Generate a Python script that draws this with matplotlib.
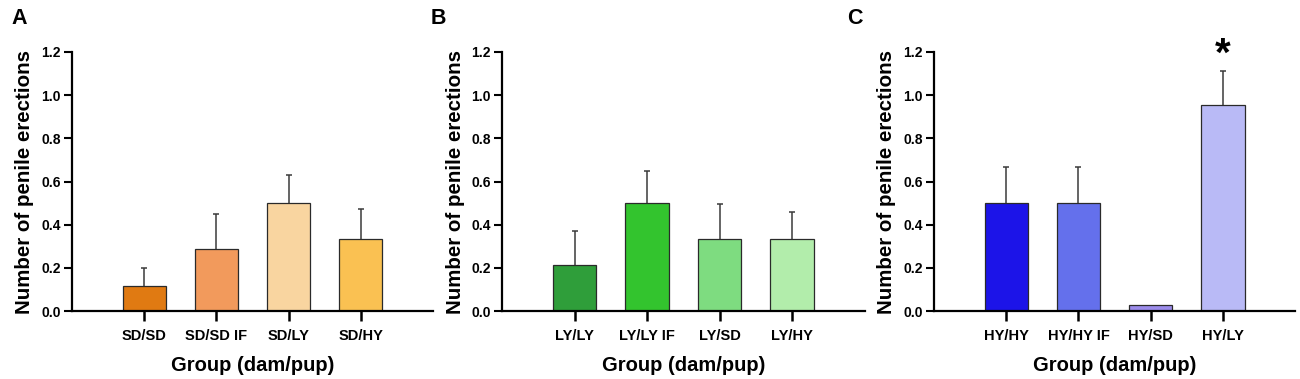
import numpy as np
import matplotlib
matplotlib.use('Agg')
import matplotlib.pyplot as plt

plt.rcParams['font.family'] = ['Liberation Sans', 'DejaVu Sans']
plt.rcParams['font.weight'] = 'bold'

# panel A
groups_a = ['SD/SD', 'SD/SD IF', 'SD/LY', 'SD/HY']
mean_a = [0.117, 0.286, 0.50, 0.333]
sem_a = [0.081, 0.164, 0.13, 0.141]
colors_a = ['#E07A12', '#F29A5C', '#F9D5A0', '#FAC152']

# panel B
groups_b = ['LY/LY', 'LY/LY IF', 'LY/SD', 'LY/HY']
mean_b = [0.214, 0.50, 0.333, 0.333]
sem_b = [0.157, 0.149, 0.161, 0.127]
colors_b = ['#2F9E3A', '#33C42E', '#7EDC80', '#B2EDAB']

# panel C
groups_c = ['HY/HY', 'HY/HY IF', 'HY/SD', 'HY/LY']
mean_c = [0.50, 0.50, 0.026, 0.956]
sem_c = [0.167, 0.167, 0.0, 0.156]
colors_c = ['#1C14E8', '#6470EC', '#9C8CEB', '#B9BAF6']
signif_c = ['', '', '', '*']

panels = [
    ('A', groups_a, mean_a, sem_a, colors_a, None),
    ('B', groups_b, mean_b, sem_b, colors_b, None),
    ('C', groups_c, mean_c, sem_c, colors_c, signif_c),
]

fig = plt.figure(figsize=(13, 3.79), dpi=100)
lefts = [0.0554, 0.3862, 0.7185]
widths = [0.2777, 0.279, 0.2777]
letter_x = [0.009, 0.331, 0.652]

for i, (letter, groups, means, sems, colors, sig) in enumerate(panels):
    ax = fig.add_axes([lefts[i], 0.1794, widths[i], 0.6834])
    x = np.arange(len(groups))
    ax.bar(x, means, width=0.6, color=colors, edgecolor='#2a2a2a',
           linewidth=0.9, zorder=2)
    # symmetric error bars drawn behind the bars, so only the upper half shows
    sems = np.array(sems)
    has_err = sems > 0
    ax.errorbar(x[has_err], np.array(means)[has_err], yerr=sems[has_err],
                fmt='none', ecolor='#3a3a3a', elinewidth=1.1,
                capsize=2.5, capthick=1.1, zorder=1)
    if sig:
        for xi, m, s, lab in zip(x, means, sems, sig):
            if lab:
                ax.text(xi, m + s + 0.025, lab, ha='center', va='baseline',
                        fontsize=29, fontweight='bold', clip_on=False)

    ax.set_xlim(-1, 4)
    ax.set_ylim(0, 1.2)
    ax.set_yticks(np.arange(0, 1.21, 0.2))
    ax.set_yticklabels([f'{v:.1f}' for v in np.arange(0, 1.21, 0.2)])
    ax.set_xticks(x)
    ax.set_xticklabels(groups)
    for sp in ['top', 'right']:
        ax.spines[sp].set_visible(False)
    for sp in ['left', 'bottom']:
        ax.spines[sp].set_linewidth(1.6)
    ax.tick_params(axis='y', length=6, width=1.5, labelsize=10, pad=2)
    ax.tick_params(axis='x', length=7, width=1.8, labelsize=10.5, pad=6)
    ax.set_ylabel('Number of penile erections', fontsize=14.8, fontweight='bold',
                  labelpad=5)
    ax.set_xlabel('Group (dam/pup)', fontsize=14.5, fontweight='bold', labelpad=9)

    fig.text(letter_x[i], 0.978, letter, fontsize=15.5, fontweight='bold',
             ha='left', va='top')

fig.savefig('out.png', dpi=100)
